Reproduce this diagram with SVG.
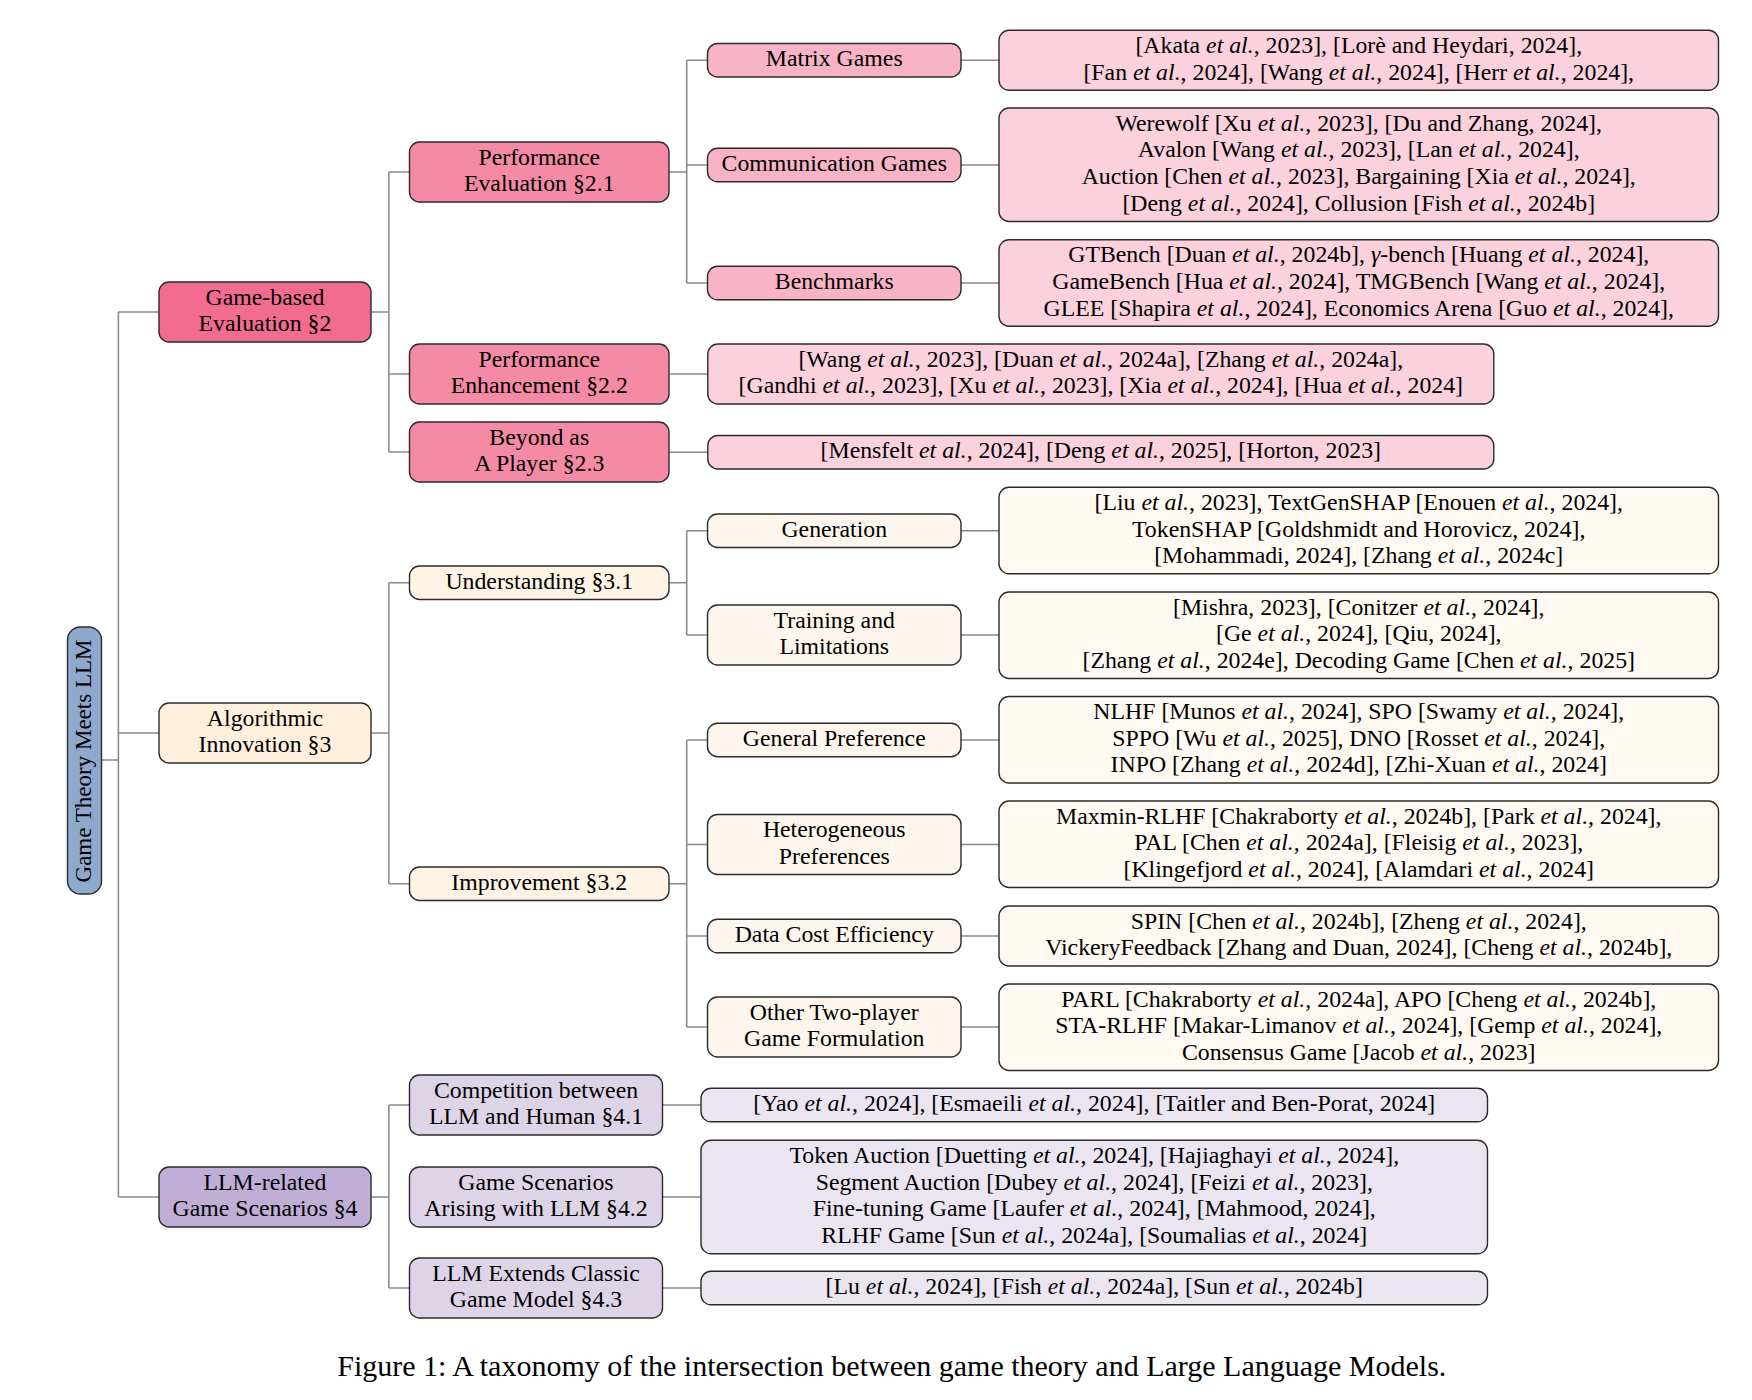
<svg xmlns="http://www.w3.org/2000/svg" width="1752" height="1400" viewBox="0 0 1752 1400">
<style>
text{font-family:"Liberation Serif","Times New Roman",serif;font-size:23.8px;fill:#000;text-anchor:middle}
.i{font-style:italic}
g rect{stroke:#2b2b2b;stroke-width:1.4}
.conn path{fill:none;stroke:#8c8c8c;stroke-width:1.6}
.root{fill:#8fa8ce}
.p1{fill:#f26c91}.p2{fill:#f58aa6}.p3{fill:#f8b4c6}.p4{fill:#fad1dc}
.o1{fill:#fef0dc}.o2{fill:#fef3e5}.o3{fill:#fef6ec}.o4{fill:#fff9f2}
.v1{fill:#c0aed6}.v2{fill:#ddd4e8}.v4{fill:#eae5f1}
.rt{font-size:23px}
.cap{font-size:30px}
</style>
<rect x="0" y="0" width="1752" height="1400" fill="#ffffff"/>
<g class="conn" id="connectors">
<path d="M101.5,760H118.4M118.4,312V1197M118.4,312H159M118.4,733H159M118.4,1197H159"/>
<path d="M371,312H388.8M388.8,172V452M388.8,172H409.5M388.8,374H409.5M388.8,452H409.5"/>
<path d="M371,733H388.8M388.8,582.75V883.75M388.8,582.75H409.5M388.8,883.75H409.5"/>
<path d="M371,1197H388.8M388.8,1105V1288M388.8,1105H409.5M388.8,1288H409.5"/>
<path d="M669,172H686.7M686.7,60.25V283M686.7,60.25H707.5M686.7,165H707.5M686.7,283H707.5"/>
<path d="M669,582.75H686.7M686.7,530.75V635M686.7,530.75H707.5M686.7,635H707.5"/>
<path d="M669,883.75H686.7M686.7,740V1027M686.7,740H707.5M686.7,844.5H707.5M686.7,936H707.5M686.7,1027H707.5"/>
<path d="M669,374H707.8M669,452.25H707.8M662.5,1105H701M662.5,1197H701M662.5,1288H701"/>
<path d="M961,60.25H999M961,165H999M961,283H999M961,530.75H999M961,635H999M961,740H999M961,844.5H999M961,936H999M961,1027H999"/>
</g>
<g id="root">
<rect class="root" x="67.5" y="627" width="34" height="267" rx="13"/>
<text class="rt" transform="translate(90.5,761) rotate(-90)">Game Theory Meets LLM</text>
</g>
<g id="sec2">
<rect class="p1" x="159" y="282" width="212" height="60" rx="10"/>
<text x="265" y="304.7">Game-based</text><text x="265" y="331.3">Evaluation §2</text>
</g>
<g id="sec3">
<rect class="o1" x="159" y="703" width="212" height="60" rx="10"/>
<text x="265" y="725.7">Algorithmic</text><text x="265" y="752.3">Innovation §3</text>
</g>
<g id="sec4">
<rect class="v1" x="159" y="1167" width="212" height="60" rx="10"/>
<text x="265" y="1189.7">LLM-related</text><text x="265" y="1216.3">Game Scenarios §4</text>
</g>
<g id="sec21">
<rect class="p2" x="409.5" y="142" width="259.5" height="60" rx="10"/>
<text x="539.25" y="164.7">Performance</text><text x="539.25" y="191.3">Evaluation §2.1</text>
</g>
<g id="sec22">
<rect class="p2" x="409.5" y="344" width="259.5" height="60" rx="10"/>
<text x="539.25" y="366.7">Performance</text><text x="539.25" y="393.3">Enhancement §2.2</text>
</g>
<g id="sec23">
<rect class="p2" x="409.5" y="422" width="259.5" height="60" rx="10"/>
<text x="539.25" y="444.7">Beyond as</text><text x="539.25" y="471.3">A Player §2.3</text>
</g>
<g id="sec31">
<rect class="o2" x="409.5" y="566" width="259.5" height="33.5" rx="10"/>
<text x="539.25" y="588.75">Understanding §3.1</text>
</g>
<g id="sec32">
<rect class="o2" x="409.5" y="867" width="259.5" height="33.5" rx="10"/>
<text x="539.25" y="889.75">Improvement §3.2</text>
</g>
<g id="sec41">
<rect class="v2" x="409.5" y="1075" width="253" height="60" rx="10"/>
<text x="536" y="1097.7">Competition between</text><text x="536" y="1124.3">LLM and Human §4.1</text>
</g>
<g id="sec42">
<rect class="v2" x="409.5" y="1167" width="253" height="60" rx="10"/>
<text x="536" y="1189.7">Game Scenarios</text><text x="536" y="1216.3">Arising with LLM §4.2</text>
</g>
<g id="sec43">
<rect class="v2" x="409.5" y="1258" width="253" height="60" rx="10"/>
<text x="536" y="1280.7">LLM Extends Classic</text><text x="536" y="1307.3">Game Model §4.3</text>
</g>
<g id="matrix">
<rect class="p3" x="707.5" y="43.5" width="253.5" height="33.5" rx="10"/>
<text x="834.25" y="66.25">Matrix Games</text>
</g>
<g id="comm">
<rect class="p3" x="707.5" y="148.3" width="253.5" height="33.5" rx="10"/>
<text x="834.25" y="171">Communication Games</text>
</g>
<g id="bench">
<rect class="p3" x="707.5" y="266.3" width="253.5" height="33.5" rx="10"/>
<text x="834.25" y="289">Benchmarks</text>
</g>
<g id="gen">
<rect class="o3" x="707.5" y="514" width="253.5" height="33.5" rx="10"/>
<text x="834.25" y="536.75">Generation</text>
</g>
<g id="train">
<rect class="o3" x="707.5" y="605" width="253.5" height="60" rx="10"/>
<text x="834.25" y="627.7">Training and</text><text x="834.25" y="654.3">Limitations</text>
</g>
<g id="genpref">
<rect class="o3" x="707.5" y="723.2" width="253.5" height="33.5" rx="10"/>
<text x="834.25" y="746">General Preference</text>
</g>
<g id="hetero">
<rect class="o3" x="707.5" y="814.5" width="253.5" height="60" rx="10"/>
<text x="834.25" y="837.2">Heterogeneous</text><text x="834.25" y="863.8">Preferences</text>
</g>
<g id="datacost">
<rect class="o3" x="707.5" y="919.3" width="253.5" height="33.5" rx="10"/>
<text x="834.25" y="942">Data Cost Efficiency</text>
</g>
<g id="other">
<rect class="o3" x="707.5" y="997" width="253.5" height="60" rx="10"/>
<text x="834.25" y="1019.7">Other Two-player</text><text x="834.25" y="1046.3">Game Formulation</text>
</g>
<g id="ref-matrix">
<rect class="p4" x="999" y="30.3" width="719.5" height="60" rx="10"/>
<text x="1358.75" y="53">[Akata <tspan class="i">et al.</tspan>, 2023], [Lorè and Heydari, 2024],</text>
<text x="1358.75" y="79.6">[Fan <tspan class="i">et al.</tspan>, 2024], [Wang <tspan class="i">et al.</tspan>, 2024], [Herr <tspan class="i">et al.</tspan>, 2024],</text>
</g>
<g id="ref-comm">
<rect class="p4" x="999" y="108" width="719.5" height="113.5" rx="10"/>
<text x="1358.75" y="130.85">Werewolf [Xu <tspan class="i">et al.</tspan>, 2023], [Du and Zhang, 2024],</text>
<text x="1358.75" y="157.45">Avalon [Wang <tspan class="i">et al.</tspan>, 2023], [Lan <tspan class="i">et al.</tspan>, 2024],</text>
<text x="1358.75" y="184.05">Auction [Chen <tspan class="i">et al.</tspan>, 2023], Bargaining [Xia <tspan class="i">et al.</tspan>, 2024],</text>
<text x="1358.75" y="210.65">[Deng <tspan class="i">et al.</tspan>, 2024], Collusion [Fish <tspan class="i">et al.</tspan>, 2024b]</text>
</g>
<g id="ref-bench">
<rect class="p4" x="999" y="239.7" width="719.5" height="86.5" rx="10"/>
<text x="1358.75" y="262.4">GTBench [Duan <tspan class="i">et al.</tspan>, 2024b], <tspan class="i">γ</tspan>-bench [Huang <tspan class="i">et al.</tspan>, 2024],</text>
<text x="1358.75" y="289">GameBench [Hua <tspan class="i">et al.</tspan>, 2024], TMGBench [Wang <tspan class="i">et al.</tspan>, 2024],</text>
<text x="1358.75" y="315.6">GLEE [Shapira <tspan class="i">et al.</tspan>, 2024], Economics Arena [Guo <tspan class="i">et al.</tspan>, 2024],</text>
</g>
<g id="ref-enh">
<rect class="p4" x="707.8" y="344" width="786" height="60" rx="10"/>
<text x="1100.8" y="366.7">[Wang <tspan class="i">et al.</tspan>, 2023], [Duan <tspan class="i">et al.</tspan>, 2024a], [Zhang <tspan class="i">et al.</tspan>, 2024a],</text>
<text x="1100.8" y="393.3">[Gandhi <tspan class="i">et al.</tspan>, 2023], [Xu <tspan class="i">et al.</tspan>, 2023], [Xia <tspan class="i">et al.</tspan>, 2024], [Hua <tspan class="i">et al.</tspan>, 2024]</text>
</g>
<g id="ref-beyond">
<rect class="p4" x="707.8" y="435.5" width="786" height="33.5" rx="10"/>
<text x="1100.8" y="458.25">[Mensfelt <tspan class="i">et al.</tspan>, 2024], [Deng <tspan class="i">et al.</tspan>, 2025], [Horton, 2023]</text>
</g>
<g id="ref-gen">
<rect class="o4" x="999" y="487.3" width="719.5" height="86.5" rx="10"/>
<text x="1358.75" y="510">[Liu <tspan class="i">et al.</tspan>, 2023], TextGenSHAP [Enouen <tspan class="i">et al.</tspan>, 2024],</text>
<text x="1358.75" y="536.6">TokenSHAP [Goldshmidt and Horovicz, 2024],</text>
<text x="1358.75" y="563.2">[Mohammadi, 2024], [Zhang <tspan class="i">et al.</tspan>, 2024c]</text>
</g>
<g id="ref-train">
<rect class="o4" x="999" y="592" width="719.5" height="86.5" rx="10"/>
<text x="1358.75" y="614.65">[Mishra, 2023], [Conitzer <tspan class="i">et al.</tspan>, 2024],</text>
<text x="1358.75" y="641.25">[Ge <tspan class="i">et al.</tspan>, 2024], [Qiu, 2024],</text>
<text x="1358.75" y="667.85">[Zhang <tspan class="i">et al.</tspan>, 2024e], Decoding Game [Chen <tspan class="i">et al.</tspan>, 2025]</text>
</g>
<g id="ref-genpref">
<rect class="o4" x="999" y="696.5" width="719.5" height="86.5" rx="10"/>
<text x="1358.75" y="719.15">NLHF [Munos <tspan class="i">et al.</tspan>, 2024], SPO [Swamy <tspan class="i">et al.</tspan>, 2024],</text>
<text x="1358.75" y="745.75">SPPO [Wu <tspan class="i">et al.</tspan>, 2025], DNO [Rosset <tspan class="i">et al.</tspan>, 2024],</text>
<text x="1358.75" y="772.35">INPO [Zhang <tspan class="i">et al.</tspan>, 2024d], [Zhi-Xuan <tspan class="i">et al.</tspan>, 2024]</text>
</g>
<g id="ref-hetero">
<rect class="o4" x="999" y="801" width="719.5" height="86.5" rx="10"/>
<text x="1358.75" y="823.65">Maxmin-RLHF [Chakraborty <tspan class="i">et al.</tspan>, 2024b], [Park <tspan class="i">et al.</tspan>, 2024],</text>
<text x="1358.75" y="850.25">PAL [Chen <tspan class="i">et al.</tspan>, 2024a], [Fleisig <tspan class="i">et al.</tspan>, 2023],</text>
<text x="1358.75" y="876.85">[Klingefjord <tspan class="i">et al.</tspan>, 2024], [Alamdari <tspan class="i">et al.</tspan>, 2024]</text>
</g>
<g id="ref-datacost">
<rect class="o4" x="999" y="906" width="719.5" height="60" rx="10"/>
<text x="1358.75" y="928.7">SPIN [Chen <tspan class="i">et al.</tspan>, 2024b], [Zheng <tspan class="i">et al.</tspan>, 2024],</text>
<text x="1358.75" y="955.3">VickeryFeedback [Zhang and Duan, 2024], [Cheng <tspan class="i">et al.</tspan>, 2024b],</text>
</g>
<g id="ref-other">
<rect class="o4" x="999" y="984" width="719.5" height="86.5" rx="10"/>
<text x="1358.75" y="1006.65">PARL [Chakraborty <tspan class="i">et al.</tspan>, 2024a], APO [Cheng <tspan class="i">et al.</tspan>, 2024b],</text>
<text x="1358.75" y="1033.25">STA-RLHF [Makar-Limanov <tspan class="i">et al.</tspan>, 2024], [Gemp <tspan class="i">et al.</tspan>, 2024],</text>
<text x="1358.75" y="1059.85">Consensus Game [Jacob <tspan class="i">et al.</tspan>, 2023]</text>
</g>
<g id="ref-comp">
<rect class="v4" x="701" y="1088.3" width="786.5" height="33.5" rx="10"/>
<text x="1094.25" y="1111">[Yao <tspan class="i">et al.</tspan>, 2024], [Esmaeili <tspan class="i">et al.</tspan>, 2024], [Taitler and Ben-Porat, 2024]</text>
</g>
<g id="ref-scen">
<rect class="v4" x="701" y="1140.3" width="786.5" height="113.5" rx="10"/>
<text x="1094.25" y="1163.1">Token Auction [Duetting <tspan class="i">et al.</tspan>, 2024], [Hajiaghayi <tspan class="i">et al.</tspan>, 2024],</text>
<text x="1094.25" y="1189.7">Segment Auction [Dubey <tspan class="i">et al.</tspan>, 2024], [Feizi <tspan class="i">et al.</tspan>, 2023],</text>
<text x="1094.25" y="1216.3">Fine-tuning Game [Laufer <tspan class="i">et al.</tspan>, 2024], [Mahmood, 2024],</text>
<text x="1094.25" y="1242.9">RLHF Game [Sun <tspan class="i">et al.</tspan>, 2024a], [Soumalias <tspan class="i">et al.</tspan>, 2024]</text>
</g>
<g id="ref-ext">
<rect class="v4" x="701" y="1271.3" width="786.5" height="33.5" rx="10"/>
<text x="1094.25" y="1294">[Lu <tspan class="i">et al.</tspan>, 2024], [Fish <tspan class="i">et al.</tspan>, 2024a], [Sun <tspan class="i">et al.</tspan>, 2024b]</text>
</g>
<text class="cap" x="891.8" y="1376">Figure 1: A taxonomy of the intersection between game theory and Large Language Models.</text>
</svg>
